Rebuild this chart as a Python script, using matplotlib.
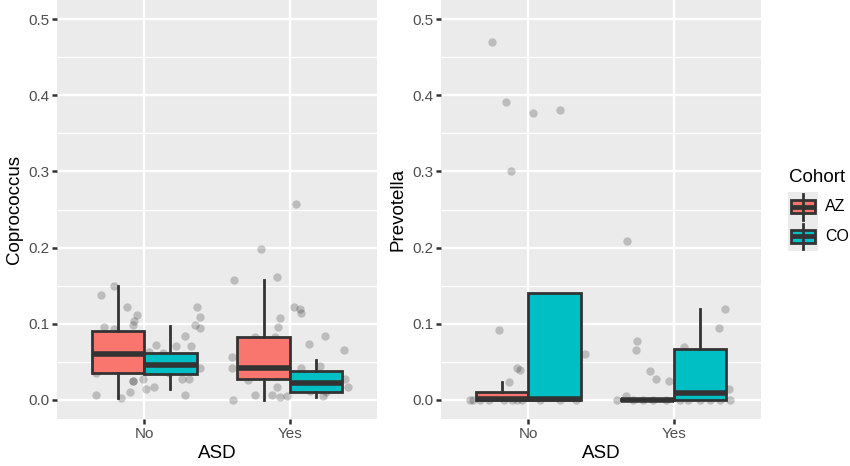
import numpy as np
import matplotlib
matplotlib.use("Agg")
import matplotlib.pyplot as plt
from matplotlib.patches import Rectangle
from matplotlib.lines import Line2D

plt.rcParams['font.family'] = ['Liberation Sans', 'DejaVu Sans']

groups = ['No', 'Yes']
cohorts = ['AZ', 'CO']
fill_cols = ['#F8766D', '#00BFC4']

# box stats: [whislo, q1, med, q3, whishi] for No, Yes
cop_az = [[0.003, 0.036, 0.060, 0.090, 0.149], [0.000, 0.027, 0.042, 0.082, 0.158]]
cop_co = [[0.014, 0.034, 0.046, 0.061, 0.097], [0.004, 0.010, 0.022, 0.038, 0.052]]
prev_az = [[0.000, 0.000, 0.0015, 0.010, 0.023], [0.000, 0.000, 0.000, 0.001, 0.001]]
prev_co = [[0.000, 0.000, 0.0015, 0.140, 0.140], [0.000, 0.000, 0.009, 0.067, 0.119]]

# jittered points: offset from group centre, value
cop_no_dx = [-0.21, -0.30, -0.12, -0.05, -0.07, -0.08, -0.28, -0.21, -0.33, -0.16, -0.10,
             -0.08, -0.08, -0.01, 0.01, 0.07, 0.08, 0.03, 0.13, 0.15, 0.17, 0.22, 0.28,
             0.32, 0.26, 0.31, 0.28, 0.35, 0.36, 0.38, 0.38, 0.38, -0.33, 0.09]
cop_no_y = [0.149, 0.138, 0.122, 0.111, 0.103, 0.099, 0.096, 0.093, 0.007, 0.003, 0.011,
            0.025, 0.025, 0.027, 0.014, 0.017, 0.072, 0.063, 0.061, 0.040, 0.036, 0.071, 0.084,
            0.071, 0.027, 0.027, 0.006, 0.099, 0.122, 0.109, 0.094, 0.042, 0.036, 0.050]
cop_yes_dx = [-0.38, -0.40, -0.40, -0.39, -0.29, -0.24, -0.20, -0.24, -0.09, -0.07, -0.08,
              -0.10, -0.12, -0.09, -0.07, -0.02, 0.04, 0.03, 0.07, 0.08, 0.13, 0.08, 0.11,
              0.14, 0.24, 0.21, 0.23, 0.25, 0.37, 0.38, 0.40, 0.32]
cop_yes_y = [0.158, 0.057, 0.042, 0.000, 0.026, 0.006, 0.198, 0.082, 0.161, 0.108, 0.096,
             0.083, 0.007, 0.017, 0.004, 0.005, 0.257, 0.122, 0.120, 0.114, 0.073, 0.042, 0.017,
             0.012, 0.084, 0.044, 0.005, 0.010, 0.066, 0.027, 0.017, 0.022]

prev_no_dx = [-0.25, -0.15, 0.03, 0.22, -0.12, -0.20, -0.13, -0.08, -0.06, 0.39,
              -0.40, -0.38, -0.33, -0.27, -0.17, -0.11, -0.08, -0.04, 0.08, 0.22, 0.33, -0.02]
prev_no_y = [0.470, 0.391, 0.377, 0.381, 0.301, 0.092, 0.024, 0.042, 0.039, 0.060,
             0.000, 0.000, 0.000, 0.000, 0.000, 0.000, 0.000, 0.000, 0.000, 0.000, 0.000, 0.004]
prev_yes_dx = [-0.32, -0.25, -0.26, -0.16, -0.12, -0.03, 0.07, 0.31, 0.35, 0.38, -0.33,
               -0.39, -0.28, -0.21, -0.14, -0.05, 0.04, 0.10, 0.18, 0.25, 0.32, 0.39]
prev_yes_y = [0.208, 0.078, 0.066, 0.038, 0.028, 0.025, 0.069, 0.095, 0.119, 0.015, 0.005,
              0.000, 0.000, 0.000, 0.000, 0.000, 0.000, 0.000, 0.000, 0.000, 0.000, 0.000]

W, H = 850, 466
fig = plt.figure(figsize=(8.5, 4.66), dpi=100)
ax1 = fig.add_axes([57 / W, 1 - 419 / H, 320 / W, 419 / H])
ax2 = fig.add_axes([441 / W, 1 - 419 / H, 320 / W, 419 / H])

dark = '#333333'
box_w = 0.36


def draw_panel(ax, az, co, no_dx, no_y, yes_dx, yes_y, ylab):
    ax.set_facecolor('#EBEBEB')
    for s in ax.spines.values():
        s.set_visible(False)
    # points
    ax.scatter(1 + np.array(no_dx), no_y, s=36, color='black', alpha=0.2, lw=0, zorder=2)
    ax.scatter(2 + np.array(yes_dx), yes_y, s=36, color='black', alpha=0.2, lw=0, zorder=2)
    # boxes
    for k, (st, col) in enumerate(zip([az, co], fill_cols)):
        shift = (-0.5 if k == 0 else 0.5) * box_w
        stats = []
        for g in range(2):
            lo, q1, med, q3, hi = st[g]
            stats.append(dict(whislo=lo, q1=q1, med=med, q3=q3, whishi=hi, fliers=[]))
        ax.bxp(stats, positions=[1 + shift, 2 + shift], widths=box_w, patch_artist=True,
               showfliers=False, showcaps=False, manage_ticks=False,
               boxprops=dict(facecolor=col, edgecolor=dark, linewidth=2.0),
               medianprops=dict(color=dark, linewidth=4.0, solid_capstyle='butt'),
               whiskerprops=dict(color=dark, linewidth=2.0), zorder=3)
    ax.set_xlim(0.4, 2.6)
    ax.set_ylim(-0.025, 0.525)
    ax.set_xticks([1, 2])
    ax.set_xticklabels(groups)
    ax.set_yticks([0, 0.1, 0.2, 0.3, 0.4, 0.5])
    ax.set_yticks([0.05, 0.15, 0.25, 0.35, 0.45], minor=True)
    ax.set_axisbelow(True)
    ax.grid(which='major', color='white', linewidth=1.7)
    ax.grid(which='minor', axis='y', color='white', linewidth=0.9)
    ax.tick_params(which='major', length=3.4, width=1.8, color=dark, labelcolor='#4D4D4D',
                   labelsize=11, pad=2.2)
    ax.tick_params(which='minor', length=0)
    ax.set_xlabel('ASD', fontsize=13.5, labelpad=3)
    ax.set_ylabel(ylab, fontsize=13.5, labelpad=4)


draw_panel(ax1, cop_az, cop_co, cop_no_dx, cop_no_y, cop_yes_dx, cop_yes_y, 'Coprococcus')
draw_panel(ax2, prev_az, prev_co, prev_no_dx, prev_no_y, prev_yes_dx, prev_yes_y, 'Prevotella')


# legend drawn by hand in pixel positions
def fx(x):
    return x / W


def fy(y):
    return 1 - y / H


fig.text(fx(789), fy(177), 'Cohort', fontsize=13.5, va='center', ha='left')
key_top = 192
key_h = 29.5
for i, (lab, col) in enumerate(zip(cohorts, fill_cols)):
    ytop = key_top + i * key_h
    cy = ytop + key_h / 2
    fig.add_artist(Rectangle((fx(788), fy(ytop + key_h)), 30 / W, key_h / H,
                             transform=fig.transFigure, facecolor='#EBEBEB', edgecolor='none'))
    fig.add_artist(Line2D([fx(803), fx(803)], [fy(ytop + 2), fy(ytop + key_h - 2)],
                          transform=fig.transFigure, color=dark, lw=2.0))
    fig.add_artist(Rectangle((fx(791), fy(cy + 6.5)), 24 / W, 13 / H,
                             transform=fig.transFigure, facecolor=col, edgecolor=dark, lw=2.0))
    fig.add_artist(Line2D([fx(791), fx(815)], [fy(cy), fy(cy)],
                          transform=fig.transFigure, color=dark, lw=3.4, solid_capstyle='butt'))
    fig.text(fx(825), fy(cy), lab, fontsize=11.5, va='center', ha='left')

fig.savefig('out.png', dpi=100)
